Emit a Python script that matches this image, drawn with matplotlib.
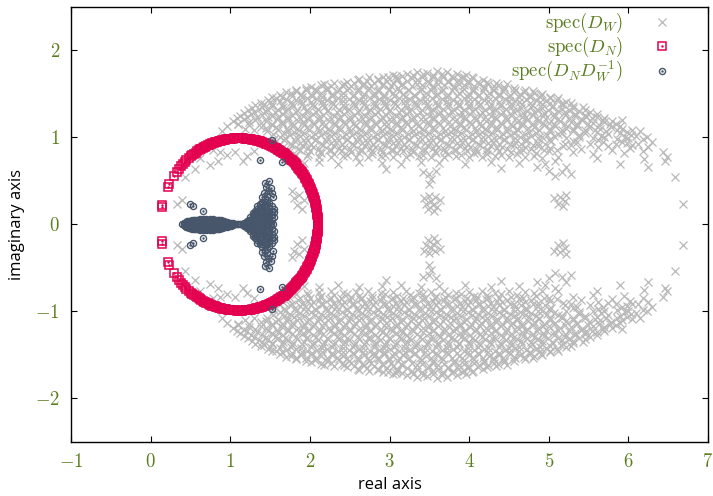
import matplotlib
matplotlib.use("Agg")
import matplotlib.pyplot as plt
import numpy as np

plt.rcParams["mathtext.fontset"] = "cm"
plt.rcParams["font.family"] = ["Open Sans", "DejaVu Sans"]

# all three spectra are symmetric under complex conjugation,
# so only the eigenvalues with Im > 0 are listed

# spec(D_W): the dense upper lobe, roughly row by row from the top
dw_lobe = [
    3.08+1.71j, 3.22+1.73j, 3.35+1.75j, 3.47+1.74j, 3.60+1.76j, 3.72+1.75j, 3.85+1.73j, 3.96+1.72j,
    2.62+1.67j, 2.74+1.69j, 2.86+1.67j, 2.98+1.70j, 3.10+1.68j, 3.28+1.68j, 3.41+1.70j, 3.55+1.69j,
    3.67+1.70j, 3.80+1.68j, 3.93+1.69j, 4.05+1.68j, 4.17+1.66j,
    2.18+1.61j, 2.30+1.63j, 2.43+1.62j, 2.55+1.63j, 2.68+1.61j, 2.80+1.63j, 2.92+1.62j, 3.04+1.63j,
    3.16+1.61j, 3.34+1.62j, 3.49+1.63j, 3.61+1.62j, 3.74+1.64j, 3.87+1.62j, 3.99+1.63j, 4.12+1.61j,
    4.24+1.62j, 4.36+1.60j, 4.47+1.61j,
    1.82+1.55j, 1.95+1.57j, 2.07+1.56j, 2.22+1.57j, 2.36+1.55j, 2.49+1.57j, 2.61+1.56j, 2.74+1.57j,
    2.87+1.55j, 2.99+1.56j, 3.11+1.57j, 3.23+1.55j, 3.40+1.56j, 3.54+1.57j, 3.67+1.55j, 3.81+1.57j,
    3.93+1.56j, 4.06+1.55j, 4.19+1.57j, 4.31+1.55j, 4.44+1.56j, 4.57+1.54j, 4.70+1.55j, 4.80+1.53j,
    1.62+1.49j, 1.76+1.51j, 1.89+1.50j, 2.01+1.49j, 2.14+1.51j, 2.28+1.50j, 2.42+1.51j, 2.56+1.49j,
    2.68+1.50j, 2.80+1.51j, 2.93+1.49j, 3.05+1.51j, 3.17+1.50j, 3.31+1.49j, 3.46+1.51j, 3.60+1.50j,
    3.73+1.49j, 3.87+1.51j, 4.00+1.50j, 4.12+1.49j, 4.25+1.51j, 4.38+1.50j, 4.51+1.49j, 4.64+1.50j,
    4.77+1.48j, 4.90+1.49j, 5.02+1.47j,
    1.47+1.43j, 1.58+1.45j, 1.70+1.44j, 1.83+1.43j, 1.96+1.45j, 2.09+1.44j, 2.21+1.43j, 2.35+1.45j,
    2.49+1.44j, 2.62+1.43j, 2.75+1.45j, 2.87+1.44j, 3.00+1.43j, 3.12+1.45j, 3.25+1.44j, 3.38+1.43j,
    3.53+1.45j, 3.66+1.44j, 3.80+1.43j, 3.93+1.45j, 4.06+1.44j, 4.19+1.43j, 4.32+1.45j, 4.45+1.44j,
    4.58+1.42j, 4.71+1.44j, 4.84+1.43j, 4.97+1.42j, 5.10+1.43j, 5.22+1.41j,
    1.31+1.37j, 1.42+1.39j, 1.53+1.38j, 1.65+1.37j, 1.77+1.39j, 1.90+1.38j, 2.03+1.37j, 2.16+1.39j,
    2.29+1.38j, 2.42+1.37j, 2.55+1.39j, 2.68+1.38j, 2.81+1.37j, 2.94+1.39j, 3.07+1.38j, 3.20+1.37j,
    3.33+1.39j, 3.47+1.38j, 3.60+1.37j, 3.74+1.39j, 3.87+1.38j, 4.00+1.37j, 4.14+1.39j, 4.27+1.38j,
    4.40+1.37j, 4.53+1.39j, 4.66+1.38j, 4.79+1.37j, 4.92+1.38j, 5.05+1.36j, 5.18+1.38j, 5.31+1.36j,
    5.43+1.35j,
    1.22+1.31j, 1.36+1.33j, 1.48+1.32j, 1.60+1.31j, 1.72+1.33j, 1.84+1.32j, 1.97+1.31j, 2.10+1.33j,
    2.23+1.32j, 2.36+1.31j, 2.49+1.33j, 2.62+1.32j, 2.75+1.31j, 2.88+1.33j, 3.01+1.32j, 3.14+1.31j,
    3.27+1.33j, 3.41+1.32j, 3.54+1.31j, 3.67+1.33j, 3.81+1.32j, 3.94+1.31j, 4.07+1.33j, 4.20+1.32j,
    4.33+1.31j, 4.46+1.33j, 4.60+1.32j, 4.73+1.30j, 4.86+1.32j, 4.99+1.31j, 5.12+1.30j, 5.25+1.32j,
    5.38+1.30j, 5.52+1.29j,
    1.12+1.25j, 1.26+1.27j, 1.40+1.26j, 1.53+1.25j, 1.66+1.27j, 1.78+1.26j, 1.91+1.25j, 2.04+1.27j,
    2.17+1.26j, 2.30+1.25j, 2.43+1.27j, 2.56+1.26j, 2.69+1.25j, 2.82+1.27j, 2.95+1.26j, 3.08+1.25j,
    3.22+1.27j, 3.35+1.26j, 3.49+1.25j, 3.62+1.27j, 3.75+1.26j, 3.88+1.25j, 4.01+1.27j, 4.14+1.26j,
    4.27+1.25j, 4.40+1.27j, 4.53+1.26j, 4.66+1.24j, 4.80+1.26j, 4.93+1.25j, 5.06+1.24j, 5.20+1.26j,
    5.33+1.25j, 5.47+1.23j, 5.60+1.24j, 5.70+1.22j,
    1.03+1.19j, 1.17+1.21j, 1.31+1.20j, 1.45+1.19j, 1.59+1.21j, 1.72+1.20j, 1.85+1.19j, 1.98+1.21j,
    2.11+1.20j, 2.24+1.19j, 2.37+1.21j, 2.50+1.20j, 2.63+1.19j, 2.76+1.21j, 2.89+1.20j, 3.02+1.19j,
    3.15+1.21j, 3.28+1.20j, 3.42+1.19j, 3.55+1.21j, 3.68+1.20j, 3.82+1.19j, 3.95+1.21j, 4.08+1.20j,
    4.21+1.19j, 4.34+1.21j, 4.47+1.20j, 4.60+1.18j, 4.73+1.20j, 4.87+1.19j, 5.00+1.17j, 5.14+1.19j,
    5.28+1.18j, 5.42+1.20j, 5.56+1.17j, 5.70+1.18j, 5.84+1.16j, 5.92+1.20j,
    0.96+1.13j, 1.10+1.15j, 1.24+1.14j, 1.38+1.12j, 1.52+1.14j, 1.65+1.15j, 1.78+1.13j, 1.92+1.14j,
    2.05+1.15j, 2.18+1.13j, 2.31+1.14j, 2.44+1.15j, 2.57+1.13j, 2.70+1.14j, 2.83+1.15j, 2.96+1.13j,
    3.09+1.14j, 3.22+1.15j, 3.36+1.13j, 3.50+1.14j, 3.63+1.15j, 3.76+1.13j, 3.89+1.14j, 4.02+1.15j,
    4.15+1.13j, 4.28+1.14j, 4.41+1.15j, 4.54+1.13j, 4.67+1.14j, 4.81+1.12j, 4.94+1.14j, 5.08+1.13j,
    5.22+1.11j, 5.36+1.13j, 5.50+1.12j, 5.64+1.10j, 5.78+1.12j, 5.92+1.10j, 6.05+1.09j,
    0.90+1.07j, 1.30+1.08j, 1.46+1.07j, 1.60+1.09j, 1.73+1.07j, 1.86+1.08j, 1.99+1.09j, 2.12+1.07j,
    2.25+1.08j, 2.38+1.09j, 2.51+1.07j, 2.64+1.08j, 2.77+1.09j, 2.90+1.07j, 3.03+1.08j, 3.16+1.09j,
    3.29+1.07j, 3.43+1.08j, 3.56+1.09j, 3.70+1.07j, 3.83+1.08j, 3.96+1.09j, 4.09+1.07j, 4.22+1.08j,
    4.35+1.09j, 4.48+1.07j, 4.61+1.08j, 4.75+1.06j, 4.88+1.08j, 5.02+1.07j, 5.16+1.05j, 5.30+1.07j,
    5.45+1.05j, 5.60+1.06j, 5.75+1.04j, 5.90+1.05j, 6.03+1.03j, 6.14+1.07j,
    1.62+1.01j, 1.75+1.03j, 1.88+1.02j, 2.01+1.01j, 2.14+1.03j, 2.27+1.02j, 2.40+1.01j, 2.53+1.03j,
    2.66+1.02j, 2.79+1.01j, 2.92+1.03j, 3.05+1.02j, 3.18+1.01j, 3.31+1.03j, 3.45+1.02j, 3.58+1.01j,
    3.71+1.03j, 3.85+1.02j, 3.98+1.01j, 4.11+1.03j, 4.24+1.02j, 4.37+1.01j, 4.51+1.03j, 4.64+1.01j,
    4.78+1.02j, 4.92+1.00j, 5.06+1.02j, 5.22+0.99j, 5.38+1.01j, 5.55+0.99j, 5.70+1.00j, 5.86+0.98j,
    6.00+0.99j, 6.18+0.98j, 6.24+1.00j,
    1.56+0.95j, 1.68+0.97j, 1.81+0.96j, 1.94+0.95j, 2.07+0.97j, 2.20+0.96j, 2.33+0.95j, 2.46+0.97j,
    2.59+0.96j, 2.72+0.95j, 2.85+0.97j, 2.98+0.96j, 3.11+0.95j, 3.24+0.97j, 3.38+0.96j, 3.51+0.95j,
    3.64+0.97j, 3.78+0.96j, 3.91+0.95j, 4.04+0.97j, 4.17+0.96j, 4.30+0.95j, 4.44+0.97j, 4.58+0.95j,
    4.72+0.96j, 4.87+0.94j, 5.03+0.96j, 5.20+0.93j, 5.36+0.95j, 5.52+0.93j, 5.68+0.95j, 5.84+0.92j,
    5.98+0.94j, 6.12+0.92j, 6.30+0.95j,
    1.66+0.89j, 1.78+0.91j, 1.91+0.90j, 2.04+0.89j, 2.17+0.91j, 2.30+0.90j, 2.43+0.89j, 2.56+0.91j,
    2.69+0.90j, 2.82+0.89j, 2.95+0.91j, 3.08+0.90j, 3.21+0.89j, 3.35+0.91j, 3.48+0.90j, 3.61+0.89j,
    3.75+0.91j, 3.88+0.90j, 4.01+0.89j, 4.14+0.91j, 4.27+0.90j, 4.41+0.89j, 4.56+0.91j, 4.70+0.89j,
    4.86+0.90j, 5.02+0.88j, 5.18+0.90j, 5.40+0.87j, 5.62+0.89j, 5.80+0.86j, 6.02+0.88j, 6.25+0.89j,
    1.74+0.83j, 1.87+0.85j, 2.00+0.84j, 2.13+0.83j, 2.26+0.85j, 2.39+0.84j, 2.52+0.83j, 2.65+0.85j,
    2.78+0.84j, 2.91+0.83j, 3.04+0.85j, 3.17+0.84j, 3.30+0.83j, 3.44+0.85j, 3.57+0.84j, 3.70+0.83j,
    3.84+0.85j, 3.97+0.84j, 4.10+0.83j, 4.24+0.85j, 4.38+0.84j, 4.52+0.83j, 4.68+0.85j, 4.84+0.82j,
    5.00+0.84j, 5.30+0.83j, 5.55+0.81j, 5.95+0.82j, 6.18+0.84j, 6.44+0.83j,
    1.80+0.77j, 1.96+0.79j, 2.11+0.78j, 2.27+0.77j, 2.42+0.79j, 2.58+0.78j, 2.73+0.77j, 2.89+0.79j,
    3.05+0.78j, 3.21+0.77j, 3.37+0.79j, 3.52+0.78j, 3.68+0.77j, 3.84+0.79j, 4.00+0.78j, 4.16+0.77j,
    4.32+0.79j, 4.50+0.77j, 4.70+0.78j, 4.92+0.76j, 5.12+0.77j, 5.60+0.76j, 6.20+0.75j, 6.49+0.77j,
    1.92+0.71j, 2.12+0.72j, 2.35+0.70j, 2.62+0.72j, 2.90+0.71j, 3.15+0.70j, 3.40+0.72j, 3.62+0.71j,
    3.95+0.70j, 4.28+0.72j, 4.62+0.71j, 4.95+0.70j, 5.08+0.73j, 5.90+0.70j,
]

# spec(D_W): more eigenvalues in between, where the lobe is densest
dw_lobe_core = [
    2.92+1.70j, 3.04+1.72j, 3.16+1.71j, 3.29+1.72j, 3.42+1.73j, 3.54+1.72j, 3.66+1.73j, 3.79+1.71j,
    3.91+1.70j, 4.03+1.70j,
    2.47+1.64j, 2.60+1.66j, 2.72+1.65j, 2.85+1.66j, 2.97+1.65j, 3.10+1.66j, 3.22+1.65j, 3.35+1.66j,
    3.48+1.65j, 3.61+1.66j, 3.74+1.65j, 3.86+1.66j, 3.98+1.65j, 4.11+1.64j, 4.23+1.64j, 4.34+1.63j,
    2.02+1.58j, 2.14+1.60j, 2.27+1.59j, 2.40+1.60j, 2.52+1.59j, 2.65+1.60j, 2.77+1.59j, 2.90+1.60j,
    3.02+1.59j, 3.15+1.60j, 3.28+1.59j, 3.41+1.60j, 3.55+1.59j, 3.68+1.60j, 3.81+1.59j, 3.94+1.60j,
    4.06+1.59j, 4.19+1.58j, 4.31+1.59j, 4.44+1.58j, 4.56+1.57j,
    1.70+1.52j, 1.82+1.53j, 1.95+1.54j, 2.08+1.53j, 2.21+1.54j, 2.34+1.53j, 2.47+1.54j, 2.60+1.53j,
    2.73+1.54j, 2.86+1.53j, 2.99+1.54j, 3.12+1.53j, 3.25+1.54j, 3.38+1.53j, 3.52+1.54j, 3.65+1.53j,
    3.78+1.54j, 3.91+1.53j, 4.04+1.54j, 4.17+1.53j, 4.30+1.54j, 4.43+1.53j, 4.56+1.52j, 4.69+1.52j,
    4.82+1.51j, 4.92+1.50j,
    1.53+1.46j, 1.65+1.47j, 1.77+1.48j, 1.90+1.47j, 2.03+1.48j, 2.15+1.47j, 2.28+1.48j, 2.41+1.47j,
    2.54+1.48j, 2.67+1.47j, 2.80+1.48j, 2.93+1.47j, 3.06+1.48j, 3.19+1.47j, 3.32+1.48j, 3.45+1.47j,
    3.59+1.48j, 3.72+1.47j, 3.85+1.48j, 3.98+1.47j, 4.11+1.48j, 4.24+1.47j, 4.37+1.48j, 4.50+1.47j,
    4.63+1.46j, 4.76+1.47j, 4.89+1.46j, 5.02+1.45j, 5.12+1.45j,
    1.38+1.40j, 1.50+1.41j, 1.63+1.42j, 1.76+1.41j, 1.89+1.42j, 2.02+1.41j, 2.15+1.42j, 2.28+1.41j,
    2.41+1.42j, 2.54+1.41j, 2.67+1.42j, 2.80+1.41j, 2.93+1.42j, 3.06+1.41j, 3.19+1.42j, 3.32+1.41j,
    3.45+1.42j, 3.59+1.41j, 3.72+1.42j, 3.85+1.41j, 3.98+1.42j, 4.11+1.41j, 4.24+1.42j, 4.37+1.41j,
    4.50+1.42j, 4.63+1.41j, 4.76+1.40j, 4.89+1.41j, 5.02+1.40j, 5.15+1.39j, 5.28+1.40j,
    1.27+1.34j, 1.40+1.35j, 1.53+1.36j, 1.66+1.35j, 1.79+1.36j, 1.92+1.35j, 2.05+1.36j, 2.18+1.35j,
    2.31+1.36j, 2.44+1.35j, 2.57+1.36j, 2.70+1.35j, 2.83+1.36j, 2.96+1.35j, 3.09+1.36j, 3.22+1.35j,
    3.35+1.36j, 3.48+1.35j, 3.61+1.36j, 3.74+1.35j, 3.87+1.36j, 4.00+1.35j, 4.13+1.36j, 4.26+1.35j,
    4.39+1.36j, 4.52+1.35j, 4.65+1.34j, 4.78+1.35j, 4.91+1.34j, 5.04+1.35j, 5.17+1.33j, 5.30+1.34j,
    5.45+1.32j,
    1.17+1.28j, 1.30+1.29j, 1.43+1.30j, 1.56+1.29j, 1.69+1.30j, 1.82+1.29j, 1.95+1.30j, 2.08+1.29j,
    2.21+1.30j, 2.34+1.29j, 2.47+1.30j, 2.60+1.29j, 2.73+1.30j, 2.86+1.29j, 2.99+1.30j, 3.12+1.29j,
    3.25+1.30j, 3.38+1.29j, 3.51+1.30j, 3.64+1.29j, 3.77+1.30j, 3.90+1.29j, 4.03+1.30j, 4.16+1.29j,
    4.29+1.30j, 4.42+1.29j, 4.55+1.30j, 4.68+1.28j, 4.81+1.29j, 4.94+1.28j, 5.07+1.27j, 5.20+1.29j,
    5.33+1.27j, 5.46+1.26j, 5.60+1.27j,
    1.08+1.22j, 1.21+1.23j, 1.34+1.24j, 1.47+1.23j, 1.60+1.24j, 1.73+1.23j, 1.86+1.24j, 1.99+1.23j,
    2.12+1.24j, 2.25+1.23j, 2.38+1.24j, 2.51+1.23j, 2.64+1.24j, 2.77+1.23j, 2.90+1.24j, 3.03+1.23j,
    3.16+1.24j, 3.29+1.23j, 3.42+1.24j, 3.55+1.23j, 3.68+1.24j, 3.81+1.23j, 3.94+1.24j, 4.07+1.23j,
    4.20+1.24j, 4.33+1.23j, 4.46+1.24j, 4.59+1.22j, 4.72+1.23j, 4.85+1.22j, 4.98+1.23j, 5.12+1.21j,
    5.26+1.22j, 5.40+1.21j, 5.54+1.22j, 5.68+1.20j, 5.80+1.19j,
    1.10+1.16j, 1.24+1.18j, 1.38+1.17j, 1.52+1.16j, 1.65+1.18j, 1.78+1.17j, 1.91+1.18j, 2.04+1.17j,
    2.17+1.18j, 2.30+1.17j, 2.43+1.18j, 2.56+1.17j, 2.69+1.18j, 2.82+1.17j, 2.95+1.18j, 3.08+1.17j,
    3.21+1.18j, 3.35+1.17j, 3.48+1.18j, 3.61+1.17j, 3.75+1.18j, 3.88+1.17j, 4.01+1.18j, 4.14+1.17j,
    4.27+1.18j, 4.40+1.17j, 4.53+1.16j, 4.66+1.17j, 4.80+1.16j, 4.93+1.17j, 5.07+1.15j, 5.21+1.16j,
    5.35+1.15j, 5.49+1.16j, 5.63+1.14j, 5.77+1.15j, 5.90+1.13j,
    1.18+1.10j, 1.45+1.11j, 1.58+1.12j, 1.71+1.11j, 1.84+1.10j, 1.97+1.12j, 2.10+1.11j, 2.23+1.10j,
    2.36+1.12j, 2.49+1.11j, 2.62+1.10j, 2.75+1.12j, 2.88+1.11j, 3.01+1.10j, 3.14+1.12j, 3.27+1.11j,
    3.41+1.10j, 3.54+1.12j, 3.67+1.11j, 3.80+1.10j, 3.94+1.12j, 4.07+1.11j, 4.20+1.10j, 4.34+1.12j,
    4.47+1.11j, 4.60+1.10j, 4.74+1.11j, 4.88+1.09j, 5.02+1.10j, 5.16+1.08j, 5.30+1.10j, 5.45+1.08j,
    5.58+1.09j, 5.72+1.07j, 5.86+1.08j, 5.98+1.06j,
    1.54+1.04j, 1.67+1.05j, 1.80+1.06j, 1.93+1.05j, 2.06+1.04j, 2.19+1.06j, 2.32+1.05j, 2.45+1.04j,
    2.58+1.06j, 2.71+1.05j, 2.84+1.04j, 2.97+1.06j, 3.10+1.05j, 3.23+1.04j, 3.37+1.06j, 3.50+1.05j,
    3.63+1.04j, 3.77+1.06j, 3.90+1.05j, 4.03+1.04j, 4.16+1.06j, 4.29+1.05j, 4.42+1.04j, 4.56+1.05j,
    4.70+1.04j, 4.84+1.05j, 4.98+1.03j, 5.12+1.04j, 5.38+1.03j, 5.66+1.02j, 5.96+1.01j, 6.10+1.02j,
    1.55+0.98j, 1.69+0.99j, 1.82+1.00j, 1.95+0.99j, 2.08+0.98j, 2.21+1.00j, 2.34+0.99j, 2.47+0.98j,
    2.60+1.00j, 2.73+0.99j, 2.86+0.98j, 2.99+1.00j, 3.12+0.99j, 3.25+0.98j, 3.38+1.00j, 3.52+0.99j,
    3.65+0.98j, 3.78+1.00j, 3.92+0.99j, 4.05+0.98j, 4.18+1.00j, 4.31+0.99j, 4.44+0.98j, 4.58+0.99j,
    4.72+0.98j, 4.86+0.99j, 5.00+0.97j, 5.30+0.96j, 5.62+0.97j, 5.92+0.95j,
    1.62+0.92j, 1.75+0.93j, 1.88+0.94j, 2.01+0.93j, 2.14+0.92j, 2.27+0.94j, 2.40+0.93j, 2.53+0.92j,
    2.66+0.94j, 2.79+0.93j, 2.92+0.92j, 3.05+0.94j, 3.18+0.93j, 3.31+0.92j, 3.45+0.94j, 3.58+0.93j,
    3.71+0.92j, 3.85+0.94j, 3.98+0.93j, 4.11+0.92j, 4.24+0.94j, 4.37+0.93j, 4.51+0.92j, 4.65+0.93j,
    4.80+0.91j, 4.95+0.93j, 5.28+0.91j, 5.75+0.90j, 6.05+0.91j,
    1.72+0.86j, 1.85+0.87j, 1.98+0.88j, 2.11+0.87j, 2.24+0.86j, 2.37+0.88j, 2.50+0.87j, 2.63+0.86j,
    2.76+0.88j, 2.89+0.87j, 3.02+0.86j, 3.15+0.88j, 3.28+0.87j, 3.41+0.86j, 3.55+0.88j, 3.68+0.87j,
    3.81+0.86j, 3.95+0.88j, 4.08+0.87j, 4.21+0.86j, 4.35+0.88j, 4.48+0.87j, 4.62+0.86j, 4.78+0.87j,
    4.94+0.85j, 5.10+0.86j,
    1.83+0.80j, 1.98+0.81j, 2.14+0.82j, 2.30+0.81j, 2.46+0.80j, 2.62+0.82j, 2.78+0.81j, 2.94+0.80j,
    3.10+0.82j, 3.26+0.81j, 3.42+0.80j, 3.58+0.82j, 3.74+0.81j, 3.90+0.80j, 4.06+0.82j, 4.22+0.81j,
    4.40+0.80j, 4.60+0.81j, 4.82+0.79j,
]

# spec(D_W): isolated eigenvalues and small clusters near the real axis
dw_isolated = [
    2.95+0.64j, 4.40+0.65j, 4.85+0.66j, 6.25+0.66j, 6.46+0.73j, 6.59+0.54j, 6.69+0.24j,
    3.42+0.60j, 3.50+0.58j, 3.58+0.61j, 3.52+0.52j, 3.50+0.47j,
    3.43+0.30j, 3.50+0.33j, 3.57+0.31j, 3.63+0.28j, 3.46+0.24j, 3.54+0.22j, 3.60+0.20j,
    3.48+0.18j, 3.56+0.16j, 3.52+0.27j,
    5.08+0.56j, 5.16+0.60j, 5.22+0.66j, 5.28+0.58j, 5.00+0.62j,
    5.06+0.30j, 5.14+0.32j, 5.20+0.27j, 5.12+0.24j, 5.18+0.21j, 5.22+0.34j,
    0.43+0.54j, 0.56+0.64j, 0.62+0.76j, 0.75+0.68j, 0.85+0.73j, 0.87+0.83j, 0.78+0.85j,
    0.96+0.80j, 1.06+0.83j, 1.16+0.73j, 1.21+0.79j, 1.30+0.84j, 0.33+0.24j, 0.39+0.28j,
    1.80+0.30j, 1.86+0.34j, 1.92+0.28j, 1.84+0.22j, 1.90+0.18j, 1.78+0.38j,
]

# spec(D_N): phases (degrees) on the circle |z - 1.11| = 0.99
dn_center = 1.11
dn_radius = 0.99
dn_phase_deg = [
    0.5, 1.4, 2.4, 3.3, 4.3, 5.2, 6.2, 7.1, 8.1, 9.0, 10.0, 10.9, 11.9, 12.8, 13.8, 14.7,
    15.7, 16.6, 17.6, 18.5, 19.5, 20.4, 21.4, 22.3, 23.3, 24.2, 25.2, 26.1, 27.1, 28.0,
    29.0, 29.9, 30.9, 31.8, 32.8, 33.7, 34.7, 35.6, 36.6, 37.5, 38.5, 39.4, 40.4, 41.3,
    42.3, 43.2, 44.2, 45.1, 46.1, 47.0, 48.0, 48.9, 49.9, 50.8, 51.8, 52.7, 53.7, 54.6,
    55.6, 56.5, 57.5, 58.4, 59.4, 60.3, 61.3, 62.2, 63.2, 64.1, 65.1, 66.0, 67.0, 67.9,
    68.9, 69.8, 70.8, 71.7, 72.7, 73.6, 74.6, 75.5, 76.5, 77.4, 78.4, 79.3, 80.3, 81.2,
    82.2, 83.1, 84.1, 85.0, 86.0, 86.9, 87.9, 88.8, 89.8, 90.7, 91.7, 92.6, 93.6, 94.5,
    95.5, 96.4, 97.4, 98.3, 99.3, 100.2, 101.2, 102.1, 103.1, 104.0, 105.0, 105.9, 106.9,
    107.8, 108.8, 109.7, 110.7, 111.6, 112.6, 113.5, 114.5, 115.4, 116.4, 117.3,
    118.6, 119.4, 120.8, 122.1, 123.5, 124.6, 126.2, 127.7, 129.5, 131.8, 133.4, 135.4,
    137.6, 139.8, 142.2, 145.5, 152.2, 154.5, 166.9, 168.6,
]

# spec(D_N D_W^-1): real eigenvalues (the body of the "fish")
ndw_real = [
    0.40, 0.42, 0.44, 0.46, 0.48, 0.50, 0.52, 0.54, 0.56, 0.58, 0.60, 0.62, 0.64, 0.66,
    0.68, 0.70, 0.72, 0.74, 0.76, 0.78, 0.80, 0.82, 0.84, 0.86, 0.88, 0.90, 0.92, 0.94,
    0.96, 0.98, 1.00, 1.02, 1.04, 1.06, 1.08, 1.10, 1.12, 1.14, 1.16, 1.18, 1.20, 1.22,
    1.24, 1.27, 1.30, 1.33, 1.36, 1.39, 1.42, 1.45, 1.48, 1.51, 1.54,
]

# spec(D_N D_W^-1): complex eigenvalues with Im > 0
ndw_upper = [
    0.42+0.012j, 0.43+0.018j, 0.45+0.018j, 0.47+0.018j, 0.49+0.018j, 0.51+0.018j,
    0.53+0.018j, 0.55+0.018j, 0.57+0.018j, 0.59+0.018j, 0.61+0.018j, 0.63+0.018j,
    0.65+0.018j, 0.67+0.018j, 0.69+0.018j, 0.71+0.018j, 0.73+0.018j, 0.75+0.018j,
    0.77+0.018j, 0.79+0.018j, 0.81+0.018j, 0.83+0.018j, 0.85+0.018j, 0.87+0.018j,
    0.89+0.018j, 0.91+0.018j, 0.93+0.018j, 0.95+0.018j, 0.97+0.018j, 0.99+0.018j,
    1.01+0.015j, 1.03+0.012j,
    1.17+0.018j, 1.19+0.018j, 1.21+0.020j, 1.23+0.020j, 1.25+0.022j,
    0.45+0.030j, 0.46+0.034j, 0.48+0.036j, 0.50+0.036j, 0.52+0.036j, 0.54+0.036j,
    0.56+0.036j, 0.58+0.036j, 0.60+0.036j, 0.62+0.036j, 0.64+0.036j, 0.66+0.036j,
    0.68+0.036j, 0.70+0.036j, 0.72+0.036j, 0.74+0.036j, 0.76+0.036j, 0.78+0.036j,
    0.80+0.036j, 0.82+0.036j, 0.84+0.036j, 0.86+0.036j, 0.88+0.036j, 0.90+0.036j,
    0.92+0.034j, 0.94+0.030j, 0.96+0.028j, 0.98+0.022j,
    1.21+0.036j, 1.23+0.040j, 1.26+0.040j, 1.28+0.045j,
    0.52+0.048j, 0.54+0.052j, 0.56+0.054j, 0.58+0.054j, 0.60+0.054j, 0.62+0.056j,
    0.64+0.056j, 0.66+0.056j, 0.68+0.056j, 0.70+0.056j, 0.72+0.056j, 0.74+0.056j,
    0.76+0.056j, 0.78+0.056j, 0.80+0.054j, 0.82+0.054j, 0.84+0.052j, 0.86+0.050j,
    0.88+0.046j, 0.90+0.040j, 1.24+0.055j, 1.27+0.060j,
    0.62+0.066j, 0.66+0.068j, 0.70+0.068j, 0.74+0.068j, 0.78+0.066j,
    1.25+0.08j, 1.28+0.08j, 1.28+0.11j, 1.28+0.13j, 1.31+0.07j, 1.31+0.10j, 1.31+0.13j,
    1.31+0.16j, 1.34+0.03j, 1.34+0.06j, 1.34+0.09j, 1.34+0.12j, 1.34+0.15j, 1.34+0.18j,
    1.34+0.21j, 1.37+0.05j, 1.37+0.08j, 1.37+0.11j, 1.37+0.14j, 1.37+0.17j, 1.37+0.20j,
    1.37+0.23j, 1.40+0.03j, 1.40+0.07j, 1.40+0.10j, 1.40+0.14j, 1.40+0.18j, 1.40+0.22j,
    1.40+0.26j, 1.43+0.06j, 1.43+0.11j, 1.43+0.15j, 1.43+0.20j, 1.43+0.24j, 1.43+0.29j,
    1.46+0.04j, 1.46+0.09j, 1.46+0.13j, 1.46+0.17j, 1.46+0.23j, 1.46+0.28j, 1.46+0.33j,
    1.49+0.03j, 1.49+0.08j, 1.49+0.14j, 1.49+0.19j, 1.49+0.25j, 1.52+0.05j, 1.52+0.11j,
    1.52+0.16j, 1.52+0.21j, 1.55+0.08j, 1.55+0.14j, 1.55+0.18j,
    1.44+0.48j, 1.49+0.50j, 1.42+0.36j, 1.47+0.39j, 1.51+0.42j, 1.45+0.43j, 1.54+0.31j,
    1.40+0.32j, 1.52+0.36j,
    0.50+0.24j, 0.53+0.21j, 0.66+0.16j, 1.37+0.74j, 1.65+0.72j, 1.52+0.97j,
]

x_ticks = [-1, 0, 1, 2, 3, 4, 5, 6, 7]
y_ticks = [-2, -1, 0, 1, 2]
legend_labels = [
    r"$\mathrm{spec}(D_W)$",
    r"$\mathrm{spec}(D_N)$",
    r"$\mathrm{spec}(D_N D_W^{-1})$",
]

gray = "#b8b8b8"
red = "#e3004f"
navy = "#47566a"
green = "#5b7d1f"


def with_conjugates(upper):
    z = np.asarray(upper, dtype=complex)
    return np.concatenate([z, z.conj()])


spec_dw = with_conjugates(dw_lobe + dw_lobe_core + dw_isolated)
spec_dn = with_conjugates(dn_center + dn_radius * np.exp(1j * np.deg2rad(dn_phase_deg)))
spec_ndw = np.concatenate([np.asarray(ndw_real, dtype=complex), with_conjugates(ndw_upper)])

fig = plt.figure(figsize=(7.13, 4.96), dpi=100)
ax = fig.add_axes([0.0996, 0.109, 0.8934, 0.877])

h_dw, = ax.plot(spec_dw.real, spec_dw.imag, "x", color=gray, ms=5.2, mew=0.9, ls="none", zorder=1)
h_dn, = ax.plot(spec_dn.real, spec_dn.imag, "s", mfc="none", mec=red, ms=5.2, mew=1.1,
                ls="none", zorder=2)
h_dn_dot, = ax.plot(spec_dn.real, spec_dn.imag, ".", color=red, ms=1.5, ls="none", zorder=2)
h_ndw, = ax.plot(spec_ndw.real, spec_ndw.imag, "o", mfc="none", mec=navy, ms=4.4, mew=1.0,
                 ls="none", zorder=3)
h_ndw_dot, = ax.plot(spec_ndw.real, spec_ndw.imag, ".", color=navy, ms=1.5, ls="none", zorder=3)

ax.set_xlim(-1, 7)
ax.set_ylim(-2.5, 2.5)
ax.set_xticks(x_ticks)
ax.set_yticks(y_ticks)
ax.set_xticklabels([f"${t}$" for t in x_ticks])
ax.set_yticklabels([f"${t}$" for t in y_ticks])
ax.tick_params(direction="in", top=True, right=True, length=4, width=0.8,
               labelsize=13.5, labelcolor=green)
ax.tick_params(axis="x", pad=8)
ax.tick_params(axis="y", pad=8)
for s in ax.spines.values():
    s.set_linewidth(1.0)

ax.set_xlabel("real axis", fontsize=12, labelpad=4)
ax.set_ylabel("imaginary axis", fontsize=12, labelpad=7)

ax.legend([h_dw, (h_dn, h_dn_dot), (h_ndw, h_ndw_dot)], legend_labels,
          loc="upper right", bbox_to_anchor=(0.949, 0.995), frameon=False,
          markerfirst=False, fontsize=13.5, labelcolor=green, handlelength=1.2,
          handletextpad=1.5, labelspacing=0.0, borderaxespad=0.0, borderpad=0.1)

fig.savefig("out.png", dpi=100)
